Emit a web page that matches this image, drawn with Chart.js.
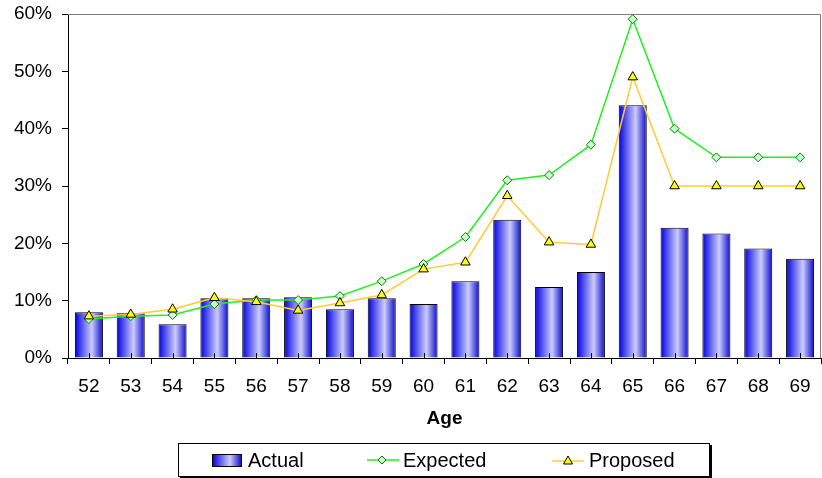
<!DOCTYPE html>
<html>
<head>
<meta charset="utf-8">
<script src="https://cdn.jsdelivr.net/npm/chart.js@4.4.1/dist/chart.umd.min.js"></script>
<style>
  body { margin: 0; background: #fff; font-family: "Liberation Sans", Arial, sans-serif; overflow: hidden; }
  #wrap { position: relative; width: 822px; height: 478px; }
  #myChart { display: block; }
  #legend { position: absolute; left: 178px; top: 443px; width: 530px; height: 32px;
            border: 1px solid #000; box-shadow: 2px 2px 0 #000; background: #fff;
            font-size: 20px; color: #000; }
  #legend span, #legend svg { position: absolute; }
  #legend span { top: 5px; line-height: 22px; }
</style>
</head>
<body>
<div id="wrap">
  <canvas id="myChart" width="822" height="478"></canvas>
  <div id="legend">
    <svg style="left:33px;top:10px" width="31" height="14">
      <defs>
        <linearGradient id="barGrad" x1="0" x2="1" y1="0" y2="0">
          <stop offset="0" stop-color="#0000e0"/>
          <stop offset="0.6" stop-color="#ccccff"/>
          <stop offset="1" stop-color="#0a0acc"/>
        </linearGradient>
      </defs>
      <rect x="0.5" y="0.5" width="29" height="12" fill="url(#barGrad)" stroke="#000"/>
    </svg>
    <span style="left:69px">Actual</span>
    <svg style="left:188px;top:8px" width="32" height="16">
      <line x1="0" y1="8" x2="32" y2="8" stroke="#22ee22" stroke-width="1.5"/>
      <polygon points="15,4 19,8 15,12 11,8" fill="#ccffcc" stroke="#008000"/>
    </svg>
    <span style="left:224px">Expected</span>
    <svg style="left:373px;top:8px" width="32" height="16">
      <line x1="0" y1="9" x2="32" y2="9" stroke="#ffcc33" stroke-width="1.5"/>
      <polygon points="16,4 20.5,12 11.5,12" fill="#ffff00" stroke="#000"/>
    </svg>
    <span style="left:410px">Proposed</span>
  </div>
</div>
<script>
var ages = ['52','53','54','55','56','57','58','59','60','61','62','63','64','65','66','67','68','69'];
var actual =   [8.0, 7.8, 5.9, 10.4, 10.4, 10.6, 8.5, 10.4, 9.4, 13.4, 24.1, 12.4, 15.0, 44.1, 22.7, 21.7, 19.1, 17.3];
var expected = [6.8, 7.3, 7.5, 9.4, 10.1, 10.1, 10.8, 13.4, 16.4, 21.1, 31.0, 31.9, 37.2, 59.1, 40.0, 35.0, 35.0, 35.0];
var proposed = [7.3, 7.6, 8.5, 10.5, 9.8, 8.3, 9.6, 11.0, 15.5, 16.7, 28.3, 20.2, 19.8, 49.0, 30.0, 30.0, 30.0, 30.0];
var yTicks = [0, 10, 20, 30, 40, 50, 60];

var fontFamily = '"Liberation Sans", Arial, sans-serif';
var barShare = 0.67;

// horizontal shading for each bar, dark edges and a light band right of centre
function barFill(c) {
  var sx = c.chart.scales.x;
  if (!sx || c.type !== 'data') return '#6666ff';
  var cx = sx.getPixelForValue(c.dataIndex);
  var w = sx.width / ages.length * barShare;
  if (!isFinite(cx) || !isFinite(w) || w <= 0) return '#6666ff';
  var g = c.chart.ctx.createLinearGradient(cx - w / 2, 0, cx + w / 2, 0);
  g.addColorStop(0, '#0000e0');
  g.addColorStop(0.6, '#ccccff');
  g.addColorStop(1, '#0a0acc');
  return g;
}

// grey frame on top and right of the plot, plus the little centre marks on the axis
var frame = {
  id: 'frame',
  beforeDatasetsDraw: function(chart) {
    var a = chart.chartArea, ctx = chart.ctx;
    ctx.save();
    ctx.strokeStyle = '#808080';
    ctx.lineWidth = 1;
    ctx.beginPath();
    ctx.moveTo(a.left, a.top + 0.5);
    ctx.lineTo(a.right - 0.5, a.top + 0.5);
    ctx.lineTo(a.right - 0.5, a.bottom);
    ctx.stroke();
    ctx.restore();
  },
  afterDatasetsDraw: function(chart) {
    var a = chart.chartArea, ctx = chart.ctx, sx = chart.scales.x;
    ctx.save();
    ctx.strokeStyle = '#000';
    ctx.lineWidth = 1;
    ctx.beginPath();
    for (var i = 0; i < ages.length; i++) {
      var x = Math.round(sx.getPixelForValue(i)) + 0.5;
      ctx.moveTo(x, a.bottom - 5);
      ctx.lineTo(x, a.bottom);
    }
    ctx.stroke();
    ctx.restore();
  }
};

var ctx = document.getElementById('myChart').getContext('2d');
var chart = new Chart(ctx, {
  type: 'bar',
  data: {
    labels: ages,
    datasets: [{
      type: 'line',
      label: 'Proposed',
      data: proposed,
      order: 0,
      clip: false,
      borderColor: '#ffcc33',
      borderWidth: 1.5,
      tension: 0,
      pointStyle: 'triangle',
      pointRadius: 5.5,
      pointBackgroundColor: '#ffff00',
      pointBorderColor: '#000',
      pointBorderWidth: 1
    }, {
      type: 'line',
      label: 'Expected',
      data: expected,
      order: 1,
      clip: false,
      borderColor: '#22ee22',
      borderWidth: 1.5,
      tension: 0,
      pointStyle: 'rectRot',
      pointRadius: 4.5,
      pointBackgroundColor: '#ccffcc',
      pointBorderColor: '#008000',
      pointBorderWidth: 1
    }, {
      label: 'Actual',
      data: actual,
      order: 2,
      backgroundColor: barFill,
      borderColor: '#000',
      borderWidth: 1,
      barPercentage: barShare,
      categoryPercentage: 1
    }]
  },
  options: {
    responsive: false,
    animation: false,
    devicePixelRatio: 1,
    layout: { autoPadding: false, padding: { top: 14, right: 1, left: 0, bottom: 0 } },
    plugins: { legend: { display: false }, tooltip: { enabled: false } },
    scales: {
      x: {
        grid: { drawOnChartArea: false, drawTicks: true, tickLength: 6, color: '#000', offset: true },
        border: { color: '#000', width: 1 },
        ticks: { color: '#000', font: { size: 19, family: fontFamily }, padding: 11, maxRotation: 0 },
        title: { display: true, text: 'Age', color: '#000',
                 font: { size: 19, weight: 'bold', family: fontFamily },
                 padding: { top: 0, bottom: 48 } },
        afterFit: function(s) { s.height = 120; s.paddingLeft = 0; s.paddingRight = 0; }
      },
      y: {
        min: 0,
        max: 60,
        afterBuildTicks: function(s) { s.ticks = yTicks.map(function(v) { return { value: v }; }); },
        ticks: { color: '#000', font: { size: 19, family: fontFamily }, padding: 10,
                 callback: function(v) { return v + '%'; } },
        grid: { drawOnChartArea: false, drawTicks: true, tickLength: 6, color: '#000' },
        border: { color: '#000', width: 1 },
        afterFit: function(s) { s.width = 68; s.paddingTop = 0; s.paddingBottom = 0; }
      }
    }
  },
  plugins: [frame]
});
</script>
</body>
</html>
